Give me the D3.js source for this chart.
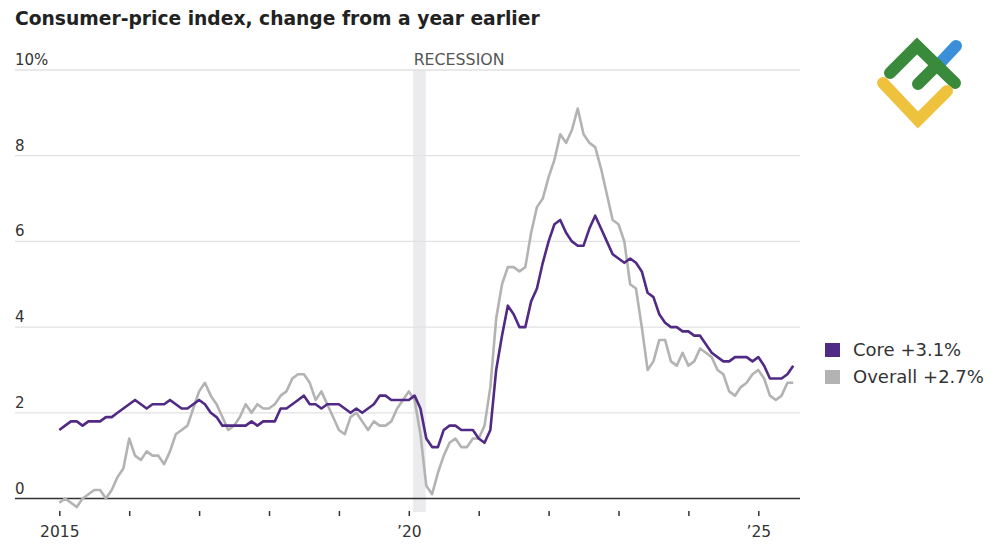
<!DOCTYPE html>
<html>
<head>
<meta charset="utf-8">
<script src="https://cdn.jsdelivr.net/npm/d3@7"></script>
<style>
  html, body { margin: 0; padding: 0; background: #fff; }
  svg { display: block; }
  text { font-family: "DejaVu Sans", sans-serif; }
</style>
</head>
<body>
<svg id="chart" width="1000" height="545"></svg>
<script>
// CPI, year-over-year % change, monthly from Jan 2015 to Jul 2025
const START_YEAR = 2015;

const overall = [
  -0.1, 0.0, -0.1, -0.2, 0.0, 0.1, 0.2, 0.2, 0.0, 0.2, 0.5, 0.7,   // 2015
  1.4, 1.0, 0.9, 1.1, 1.0, 1.0, 0.8, 1.1, 1.5, 1.6, 1.7, 2.1,      // 2016
  2.5, 2.7, 2.4, 2.2, 1.9, 1.6, 1.7, 1.9, 2.2, 2.0, 2.2, 2.1,      // 2017
  2.1, 2.2, 2.4, 2.5, 2.8, 2.9, 2.9, 2.7, 2.3, 2.5, 2.2, 1.9,      // 2018
  1.6, 1.5, 1.9, 2.0, 1.8, 1.6, 1.8, 1.7, 1.7, 1.8, 2.1, 2.3,      // 2019
  2.5, 2.3, 1.5, 0.3, 0.1, 0.6, 1.0, 1.3, 1.4, 1.2, 1.2, 1.4,      // 2020
  1.4, 1.7, 2.6, 4.2, 5.0, 5.4, 5.4, 5.3, 5.4, 6.2, 6.8, 7.0,      // 2021
  7.5, 7.9, 8.5, 8.3, 8.6, 9.1, 8.5, 8.3, 8.2, 7.7, 7.1, 6.5,      // 2022
  6.4, 6.0, 5.0, 4.9, 4.0, 3.0, 3.2, 3.7, 3.7, 3.2, 3.1, 3.4,      // 2023
  3.1, 3.2, 3.5, 3.4, 3.3, 3.0, 2.9, 2.5, 2.4, 2.6, 2.7, 2.9,      // 2024
  3.0, 2.8, 2.4, 2.3, 2.4, 2.7, 2.7                                // 2025
];

const core = [
  1.6, 1.7, 1.8, 1.8, 1.7, 1.8, 1.8, 1.8, 1.9, 1.9, 2.0, 2.1,      // 2015
  2.2, 2.3, 2.2, 2.1, 2.2, 2.2, 2.2, 2.3, 2.2, 2.1, 2.1, 2.2,      // 2016
  2.3, 2.2, 2.0, 1.9, 1.7, 1.7, 1.7, 1.7, 1.7, 1.8, 1.7, 1.8,      // 2017
  1.8, 1.8, 2.1, 2.1, 2.2, 2.3, 2.4, 2.2, 2.2, 2.1, 2.2, 2.2,      // 2018
  2.2, 2.1, 2.0, 2.1, 2.0, 2.1, 2.2, 2.4, 2.4, 2.3, 2.3, 2.3,      // 2019
  2.3, 2.4, 2.1, 1.4, 1.2, 1.2, 1.6, 1.7, 1.7, 1.6, 1.6, 1.6,      // 2020
  1.4, 1.3, 1.6, 3.0, 3.8, 4.5, 4.3, 4.0, 4.0, 4.6, 4.9, 5.5,      // 2021
  6.0, 6.4, 6.5, 6.2, 6.0, 5.9, 5.9, 6.3, 6.6, 6.3, 6.0, 5.7,      // 2022
  5.6, 5.5, 5.6, 5.5, 5.3, 4.8, 4.7, 4.3, 4.1, 4.0, 4.0, 3.9,      // 2023
  3.9, 3.8, 3.8, 3.6, 3.4, 3.3, 3.2, 3.2, 3.3, 3.3, 3.3, 3.2,      // 2024
  3.3, 3.1, 2.8, 2.8, 2.8, 2.9, 3.1                                // 2025
];

const yTicks = [0, 2, 4, 6, 8, 10];
const xTickYears = [2015, 2016, 2017, 2018, 2019, 2020, 2021, 2022, 2023, 2024, 2025];
const xTickLabels = { 2015: '2015', 2020: '\u201920', 2025: '\u201925' };
const recession = [2020 + 1 / 12, 2020 + 3 / 12];   // Feb - Apr 2020

const series = [
  { key: 'overall', label: 'Overall +2.7%', color: '#b3b3b3', values: overall },
  { key: 'core',    label: 'Core +3.1%',    color: '#512a85', values: core },
];

const svg = d3.select('#chart');
const X0 = 15, X1 = 800;

const x = d3.scaleLinear().domain([2015, 2025]).range([59.3, 758.3]);
const y = d3.scaleLinear().domain([0, 10]).range([498.5, 70]);

// title
svg.append('text')
  .attr('x', 15).attr('y', 25)
  .attr('font-size', 18.7).attr('font-weight', 700).attr('fill', '#222')
  .text('Consumer-price index, change from a year earlier');

// recession band
svg.append('rect')
  .attr('x', x(recession[0]) - 1.5).attr('width', x(recession[1]) - x(recession[0]) + 1)
  .attr('y', y(10)).attr('height', 512 - y(10))
  .attr('fill', '#ebebee');
svg.append('text')
  .attr('x', x(recession[0]) - 1).attr('y', 65)
  .attr('font-size', 15.8).attr('fill', '#555')
  .text('RECESSION');

// grid
const gGrid = svg.append('g');
gGrid.selectAll('line').data(yTicks).join('line')
  .attr('x1', X0).attr('x2', X1)
  .attr('y1', d => y(d)).attr('y2', d => y(d))
  .attr('stroke', d => d === 0 ? '#333' : '#e2e2e2')
  .attr('stroke-width', d => d === 0 ? 1.5 : 1.3);
gGrid.selectAll('text').data(yTicks).join('text')
  .attr('x', X0).attr('y', d => y(d) - 5)
  .attr('font-size', 15).attr('fill', '#333')
  .text(d => d === 10 ? '10%' : d);

// x axis
const xAxis = d3.axisBottom(x)
  .tickValues(xTickYears)
  .tickSize(5)
  .tickPadding(10)
  .tickFormat(d => xTickLabels[d] || '');
const gx = svg.append('g').attr('transform', 'translate(0,511)').call(xAxis);
gx.select('.domain').remove();
gx.selectAll('.tick line').attr('stroke', '#333').attr('stroke-width', 1.5);
gx.selectAll('.tick text')
  .attr('font-family', '"DejaVu Sans", sans-serif')
  .attr('font-size', 15.5).attr('fill', '#333');

// lines
const line = d3.line()
  .x((d, i) => x(START_YEAR + i / 12))
  .y(d => y(d));
svg.append('g').selectAll('path').data(series).join('path')
  .attr('fill', 'none')
  .attr('stroke', d => d.color)
  .attr('stroke-width', 2.6)
  .attr('stroke-linejoin', 'round')
  .attr('d', d => line(d.values));

// legend
const legend = svg.append('g').attr('transform', 'translate(825,343)');
const legItems = [series[1], series[0]];
const li = legend.selectAll('g').data(legItems).join('g')
  .attr('transform', (d, i) => `translate(0,${i * 27})`);
li.append('rect').attr('width', 15).attr('height', 14).attr('y', 0).attr('fill', d => d.color);
li.append('text').attr('x', 28).attr('y', 13)
  .attr('font-size', 18).attr('fill', '#333')
  .text(d => d.label);

// watermark logo
const logo = svg.append('g').attr('fill', 'none').attr('stroke-linecap', 'round').attr('stroke-width', 12);
logo.append('path').attr('d', 'M941,62 L956,46').attr('stroke', '#3b8fd9');
logo.append('path').attr('d', 'M890,73 L917,46 L955,83').attr('stroke', '#3a8a3c');
logo.append('path').attr('d', 'M918,84 L937,65').attr('stroke', '#3a8a3c');
logo.append('path').attr('d', 'M883,83 L918,120 L947,91').attr('stroke', '#efc23e');
</script>
</body>
</html>
